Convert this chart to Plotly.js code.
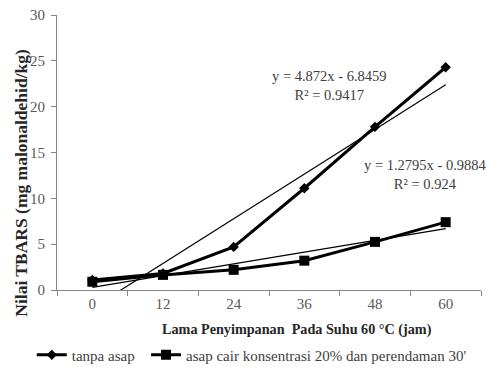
<!DOCTYPE html>
<html><head><meta charset="utf-8">
<script src="https://cdn.plot.ly/plotly-3.0.1.min.js"></script>
<style>html,body{margin:0;padding:0;background:#fff}#c{width:489px;height:368px}</style>
</head><body><div id="c"></div>
<script>
var hours = ['0','12','24','36','48','60'];
var tanpaAsap = [1.1, 1.8, 4.7, 11.1, 17.8, 24.3];
var asapCair = [0.9, 1.65, 2.2, 3.2, 5.25, 7.4];
var trend1 = {slope: 4.872, intercept: -6.8459, r2: '0.9417'};
var trend2 = {slope: 1.2795, intercept: -0.9884, r2: '0.924'};
var seriesNames = ['tanpa asap', 'asap cair konsentrasi 20% dan perendaman 30\''];

var idx = hours.map(function(h,i){return i;});
function trendLine(t){
  var xs=[0, hours.length-1];
  return {x: xs, y: xs.map(function(i){return t.slope*(i+1)+t.intercept;})};
}
var t1=trendLine(trend1), t2=trendLine(trend2);
var serif='Liberation Serif, DejaVu Serif, serif';
var data=[
  {x:idx,y:tanpaAsap,mode:'lines+markers',name:seriesNames[0],legend:'legend',line:{color:'#000',width:3},marker:{symbol:'diamond',size:8,color:'#000'}},
  {x:idx,y:asapCair,mode:'lines+markers',name:seriesNames[1],legend:'legend2',line:{color:'#000',width:3},marker:{symbol:'square',size:10,color:'#000'}},
  {x:t1.x,y:t1.y,mode:'lines',showlegend:false,line:{color:'#000',width:1.2},hoverinfo:'skip'},
  {x:t2.x,y:t2.y,mode:'lines',showlegend:false,line:{color:'#000',width:1.2},hoverinfo:'skip'}
];
var legendBase = {orientation:'h',xanchor:'left',xref:'container',y:0.035,yanchor:'middle',yref:'container',
    font:{family:serif,size:15,color:'#404040'},itemwidth:30,bgcolor:'rgba(0,0,0,0)'};
var layout={
  width:489,height:368,margin:{l:57,r:8,t:15,b:78},
  paper_bgcolor:'#fff',plot_bgcolor:'#fff',showlegend:true,
  font:{family:serif,size:15,color:'#595959'},
  xaxis:{range:[-0.5,5.5],tickmode:'array',tickvals:idx,ticktext:hours,ticks:'',showgrid:false,zeroline:false,
    showline:true,linecolor:'#868686',linewidth:1,fixedrange:true,
    tickfont:{family:serif,size:15,color:'#595959'},
    minor:{tickmode:'array',tickvals:[-0.5,0.5,1.5,2.5,3.5,4.5,5.5],ticks:'outside',ticklen:5,tickcolor:'#868686',showgrid:false}},
  yaxis:{range:[0,30],dtick:5,ticks:'outside',ticklen:5,tickcolor:'#868686',showgrid:false,zeroline:false,
    showline:true,linecolor:'#868686',linewidth:1,tickfont:{family:serif,size:15,color:'#595959'},ticklabelstandoff:3},
  legend:Object.assign({}, legendBase, {x:0.065}),
  legend2:Object.assign({}, legendBase, {x:0.2986}),
  annotations:[
    {text:'<b>Nilai TBARS (mg malonaldehid/kg)</b>',textangle:-90,xref:'paper',yref:'paper',x:-0.085,y:0.39,
      xanchor:'center',yanchor:'middle',showarrow:false,font:{family:serif,size:17.5,color:'#262626'}},
    {text:'<b>Lama Penyimpanan  Pada Suhu 60 °C (jam)</b>',xref:'paper',yref:'paper',x:0.565,y:-0.143,
      xanchor:'center',yanchor:'middle',showarrow:false,font:{family:serif,size:14.2,color:'#262626'}},
    {text:'y = '+trend1.slope+'x - '+(-trend1.intercept)+'<br>R² = '+trend1.r2,xref:'x',yref:'y',x:3.35,y:22.3,
      showarrow:false,align:'center',font:{family:serif,size:14.5,color:'#404040'}},
    {text:'y = '+trend2.slope+'x - '+(-trend2.intercept)+'<br>R² = '+trend2.r2,xref:'x',yref:'y',x:4.71,y:12.65,
      showarrow:false,align:'center',font:{family:serif,size:14.5,color:'#404040'}}
  ]
};
Plotly.newPlot('c',data,layout,{displayModeBar:false,staticPlot:true});
</script></body></html>
